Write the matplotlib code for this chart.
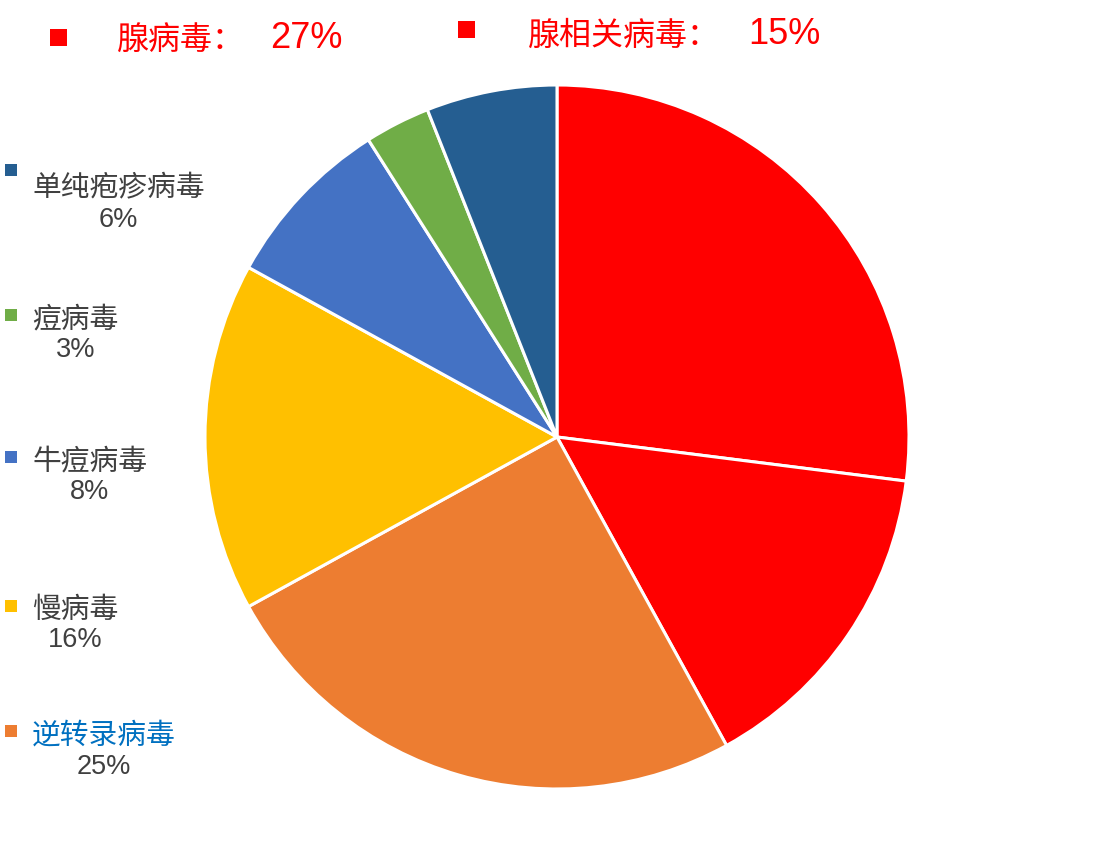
import matplotlib
matplotlib.use("Agg")
import matplotlib.pyplot as plt
from matplotlib.patches import Rectangle

plt.rcParams['font.family'] = ['Liberation Sans', 'Noto Sans CJK SC', 'DejaVu Sans']

# slices, clockwise from 12 o'clock
names = ['腺病毒', '腺相关病毒', '逆转录病毒', '慢病毒', '牛痘病毒', '痘病毒', '单纯疱疹病毒']
shares = [27, 15, 25, 16, 8, 3, 6]
colors = ['#FF0000', '#FF0000', '#ED7D31', '#FFC000', '#4472C4', '#70AD47', '#255E91']

# side legend, top to bottom
side_names = ['单纯疱疹病毒', '痘病毒', '牛痘病毒', '慢病毒', '逆转录病毒']

W, H = 1115, 849
fig = plt.figure(figsize=(W / 100, H / 100), dpi=100)
ax = fig.add_axes([0, 0, 1, 1])

ax.pie(shares, colors=colors, startangle=90, counterclock=False,
       center=(557, H - 437), radius=352,
       wedgeprops=dict(edgecolor='white', linewidth=2.2))
ax.set_xlim(0, W)
ax.set_ylim(0, H)
ax.set_aspect('auto')
ax.axis('off')

def y(v):
    return H - v

# top legend (the two red slices)
top_sq = [(50, 29), (458, 21)]
top_txt_x = [117, 528]
top_pct_x = [270, 748]
top_y = [38, 34]
for i in range(2):
    sx, sy = top_sq[i]
    ax.add_patch(Rectangle((sx, y(sy + 17)), 17, 17, color='#FF0000', lw=0))
    ax.text(top_txt_x[i], y(top_y[i] + 3), names[i] + '：', color='#FF0000',
            fontsize=23, ha='left', va='center')
    ax.text(top_pct_x[i], y(top_y[i]), f'{shares[i]}%', color='#FF0000',
            fontsize=26, ha='left', va='center')

# left legend
mark_y = [170, 315, 457, 606, 731]
line1_y = [185, 316, 458, 607, 732]
line2_y = [220, 350, 492, 640, 767]
em = 28.8
for i, nm in enumerate(side_names):
    k = names.index(nm)
    ax.add_patch(Rectangle((5, y(mark_y[i] + 6)), 12, 12, color=colors[k], lw=0))
    tc = '#0070C0' if nm == '逆转录病毒' else '#404040'
    ax.text(32, y(line1_y[i] + 3), nm, color=tc, fontsize=20.7, ha='left', va='center')
    ax.text(32 + len(nm) * em / 2, y(line2_y[i]), f'{shares[k]}%', color='#404040',
            fontsize=19.5, ha='center', va='center')

fig.savefig('out.png', dpi=100, facecolor='white')
